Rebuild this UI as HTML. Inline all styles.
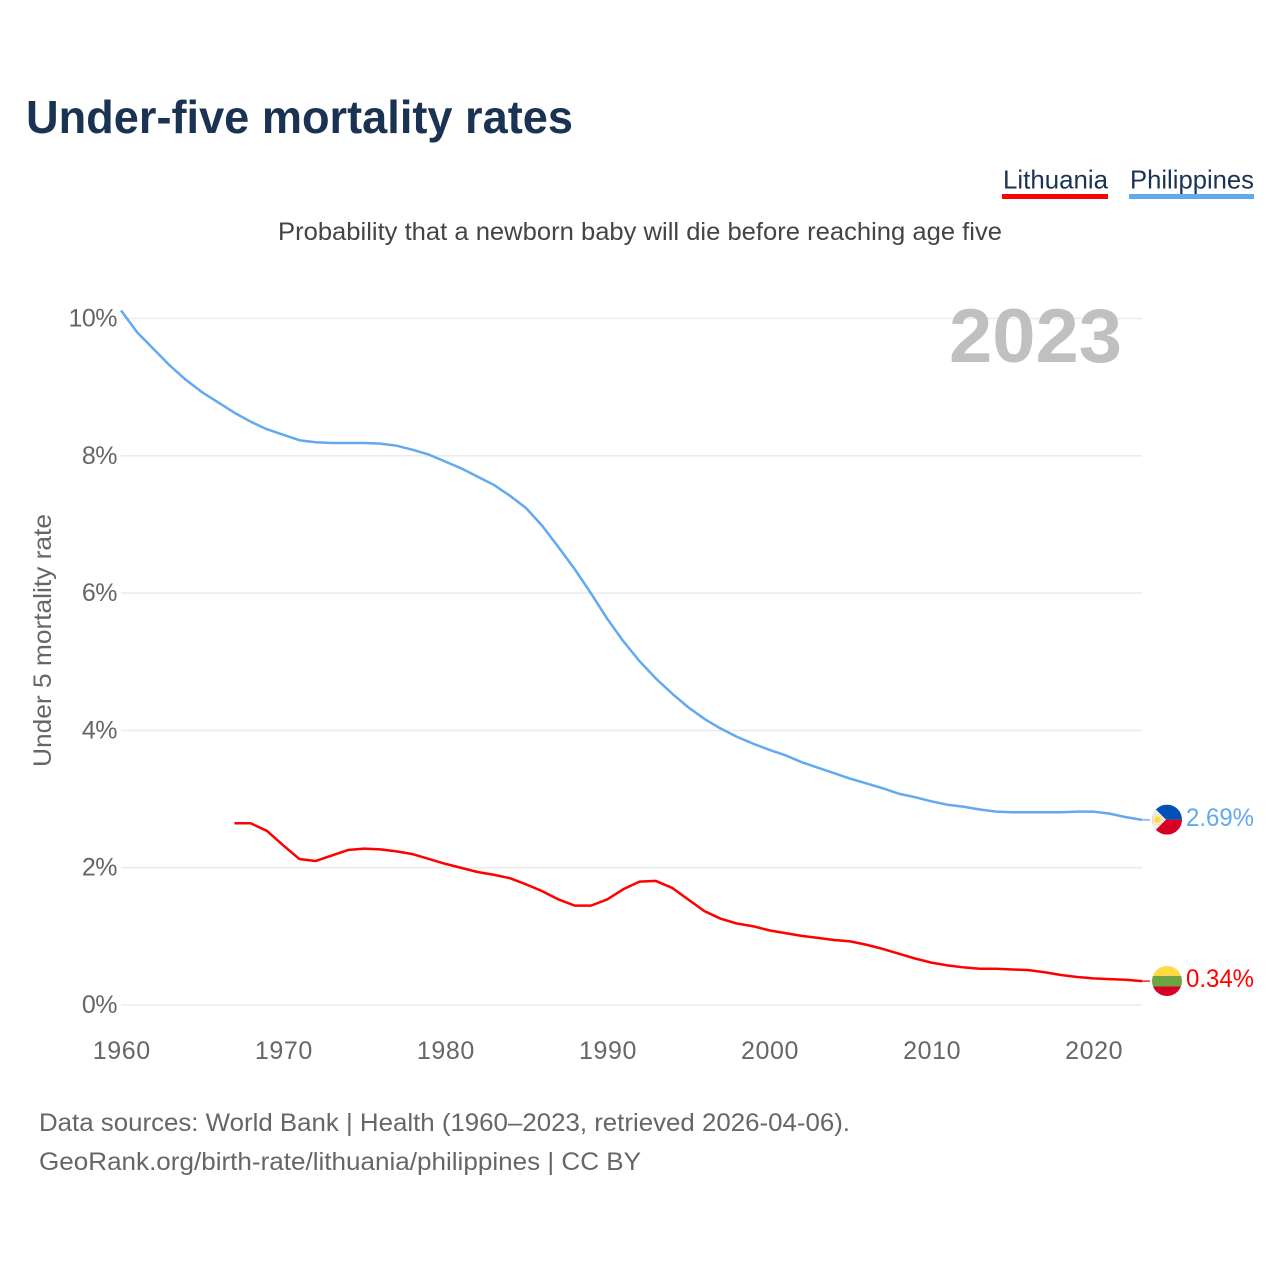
<!DOCTYPE html>
<html lang="en">
<head>
<meta charset="utf-8">
<title>Under-five mortality rates</title>
<style>
html,body{margin:0;padding:0;background:#fff;}
svg{display:block;font-family:"Liberation Sans",sans-serif;}
</style>
</head>
<body>
<svg id="chart" width="1280" height="1280" viewBox="0 0 1280 1280" xmlns="http://www.w3.org/2000/svg">
  <defs>
    <clipPath id="flag-clip"><circle cx="0" cy="0" r="15"/></clipPath>
  </defs>
  <rect x="0" y="0" width="1280" height="1280" fill="#ffffff"/>
  <text x="26" y="133" font-size="46" font-weight="700" fill="#1a3353" textLength="547" lengthAdjust="spacingAndGlyphs">Under-five mortality rates</text>
  <text x="1003" y="188.5" font-size="26" fill="#1a3353" textLength="105" lengthAdjust="spacingAndGlyphs">Lithuania</text>
  <rect x="1002" y="194" width="106" height="5" fill="#ff0000"/>
  <text x="1130" y="188.5" font-size="26" fill="#1a3353" textLength="124" lengthAdjust="spacingAndGlyphs">Philippines</text>
  <rect x="1129" y="194" width="125" height="5" fill="#63a9ee"/>
  <text x="278" y="240" font-size="25" fill="#444444" textLength="724" lengthAdjust="spacingAndGlyphs">Probability that a newborn baby will die before reaching age five</text>
  <text transform="translate(51,767) rotate(-90)" font-size="25" fill="#666666" textLength="253" lengthAdjust="spacingAndGlyphs">Under 5 mortality rate</text>
  <g id="grid"></g>
  <text x="949" y="362" font-size="76" font-weight="700" fill="#c0c0c0" textLength="173" lengthAdjust="spacingAndGlyphs">2023</text>
  <g id="y-ticks"></g>
  <g id="x-ticks"></g>
  <g id="series" transform="translate(0,-0.5)"></g>
  <g id="flag-philippines" clip-path="url(#flag-clip)">
    <rect x="-15" y="-15" width="30" height="15" fill="#0052b4"/>
    <rect x="-15" y="0" width="30" height="15" fill="#d80027"/>
    <polygon points="-16,-15 -1,0 -16,15" fill="#f0f0f0"/>
    <circle cx="-9.5" cy="0" r="3.4" fill="#ffda44"/>
    <circle cx="-9.5" cy="0" r="5" fill="none" stroke="#ffda44" stroke-width="1" stroke-dasharray="1.5 1.5"/>
  </g>
  <g id="flag-lithuania" clip-path="url(#flag-clip)">
    <rect x="-15" y="-15" width="30" height="10" fill="#ffda44"/>
    <rect x="-15" y="-5" width="30" height="10.5" fill="#6da544"/>
    <rect x="-15" y="5.5" width="30" height="10" fill="#d80027"/>
  </g>
  <text id="value-philippines" x="1186" font-size="25" fill="#63a9ee" textLength="68" lengthAdjust="spacingAndGlyphs"></text>
  <text id="value-lithuania" x="1186" font-size="25" fill="#ff0000" textLength="68" lengthAdjust="spacingAndGlyphs"></text>
  <text x="39" y="1131" font-size="25" fill="#666666" textLength="811" lengthAdjust="spacingAndGlyphs">Data sources: World Bank | Health (1960–2023, retrieved 2026-04-06).</text>
  <text x="39" y="1170" font-size="25" fill="#666666" textLength="602" lengthAdjust="spacingAndGlyphs">GeoRank.org/birth-rate/lithuania/philippines | CC BY</text>
</svg>
<script>
const startYear = 1960;
const endYear = 2023;
const lithuaniaStartYear = 1967;
const yTickValues = [0, 2, 4, 6, 8, 10];
const xTickValues = [1960, 1970, 1980, 1990, 2000, 2010, 2020];
const philippinesValues = [
  10.11, 9.79, 9.55, 9.31, 9.10, 8.92, 8.77, 8.62, 8.49, 8.38,
  8.30, 8.22, 8.19, 8.18, 8.18, 8.18, 8.17, 8.14, 8.08, 8.01,
  7.91, 7.81, 7.69, 7.57, 7.41, 7.23, 6.97, 6.66, 6.34, 5.99,
  5.62, 5.29, 5.00, 4.75, 4.53, 4.33, 4.16, 4.02, 3.90, 3.80,
  3.71, 3.63, 3.53, 3.45, 3.37, 3.29, 3.22, 3.15, 3.07, 3.02,
  2.96, 2.91, 2.88, 2.84, 2.81, 2.80, 2.80, 2.80, 2.80, 2.81,
  2.81, 2.78, 2.73, 2.69
];
const lithuaniaValues = [
  2.64, 2.64, 2.53, 2.32, 2.12, 2.09, 2.17, 2.25, 2.27, 2.26,
  2.23, 2.19, 2.12, 2.05, 1.99, 1.93, 1.89, 1.84, 1.75, 1.65,
  1.53, 1.44, 1.44, 1.53, 1.68, 1.79, 1.80, 1.70, 1.53, 1.36,
  1.25, 1.18, 1.14, 1.08, 1.04, 1.00, 0.97, 0.94, 0.92, 0.87,
  0.81, 0.74, 0.67, 0.61, 0.57, 0.54, 0.52, 0.52, 0.51, 0.50,
  0.47, 0.43, 0.40, 0.38, 0.37, 0.36, 0.34
];

const SVG_NS = 'http://www.w3.org/2000/svg';
const plotLeft = 121;
const plotRight = 1142;
const plotZero = 1005;
const pxPerPercent = 68.65;
function xScale(year) {
  return plotLeft + (year - startYear) * (plotRight - plotLeft) / (endYear - startYear);
}
function yScale(value) {
  return plotZero - value * pxPerPercent;
}
function make(tag, attrs, parent) {
  const el = document.createElementNS(SVG_NS, tag);
  Object.keys(attrs).forEach(function (k) { el.setAttribute(k, attrs[k]); });
  parent.appendChild(el);
  return el;
}

const gridGroup = document.getElementById('grid');
const yTickGroup = document.getElementById('y-ticks');
yTickValues.forEach(function (v) {
  const line = make('line', {x1: plotLeft, x2: plotRight, y1: yScale(v), y2: yScale(v), stroke: '#ebebeb', 'stroke-width': 1.6}, gridGroup);
  
  
  const label = make('text', {x: 117, y: yScale(v) + 8, 'text-anchor': 'end', 'font-size': 25, 'letter-spacing': -0.5, fill: '#666666'}, yTickGroup);
  label.textContent = v + '%';
  
  
});

const xTickGroup = document.getElementById('x-ticks');
xTickValues.forEach(function (year) {
  const label = make('text', {x: xScale(year) + 0.8, y: 1059, 'text-anchor': 'middle', 'font-size': 25, 'letter-spacing': 0.6, fill: '#666666'}, xTickGroup);
  label.textContent = String(year);
  
  
});

const seriesGroup = document.getElementById('series');
function drawSeries(values, firstYear, color, name) {
  const pts = values.map(function (v, i) {
    return xScale(firstYear + i).toFixed(2) + ',' + yScale(v).toFixed(2);
  }).join(' ');
  const line = make('polyline', {points: pts, fill: 'none', stroke: color, 'stroke-width': 2.5, 'stroke-linejoin': 'round'}, seriesGroup);
  
  
  const lastY = yScale(values[values.length - 1]);
  const stub = make('line', {x1: plotRight, x2: plotRight + 8, y1: lastY, y2: lastY, stroke: color, 'stroke-width': 1.8, opacity: 0.75}, seriesGroup);
  
  
}
drawSeries(philippinesValues, startYear, '#63a9ee', 'philippines');
drawSeries(lithuaniaValues, lithuaniaStartYear, '#ff0000', 'lithuania');

function placeEnd(values, flagId, labelId) {
  const last = values[values.length - 1];
  const yPos = yScale(last);
  document.getElementById(flagId).setAttribute('transform', 'translate(1167,' + (yPos - 0.7).toFixed(2) + ')');
  const label = document.getElementById(labelId);
  label.setAttribute('y', (yPos + 5.5).toFixed(2));
  label.textContent = last.toFixed(2) + '%';
}
placeEnd(philippinesValues, 'flag-philippines', 'value-philippines');
placeEnd(lithuaniaValues, 'flag-lithuania', 'value-lithuania');
</script>
</body>
</html>
